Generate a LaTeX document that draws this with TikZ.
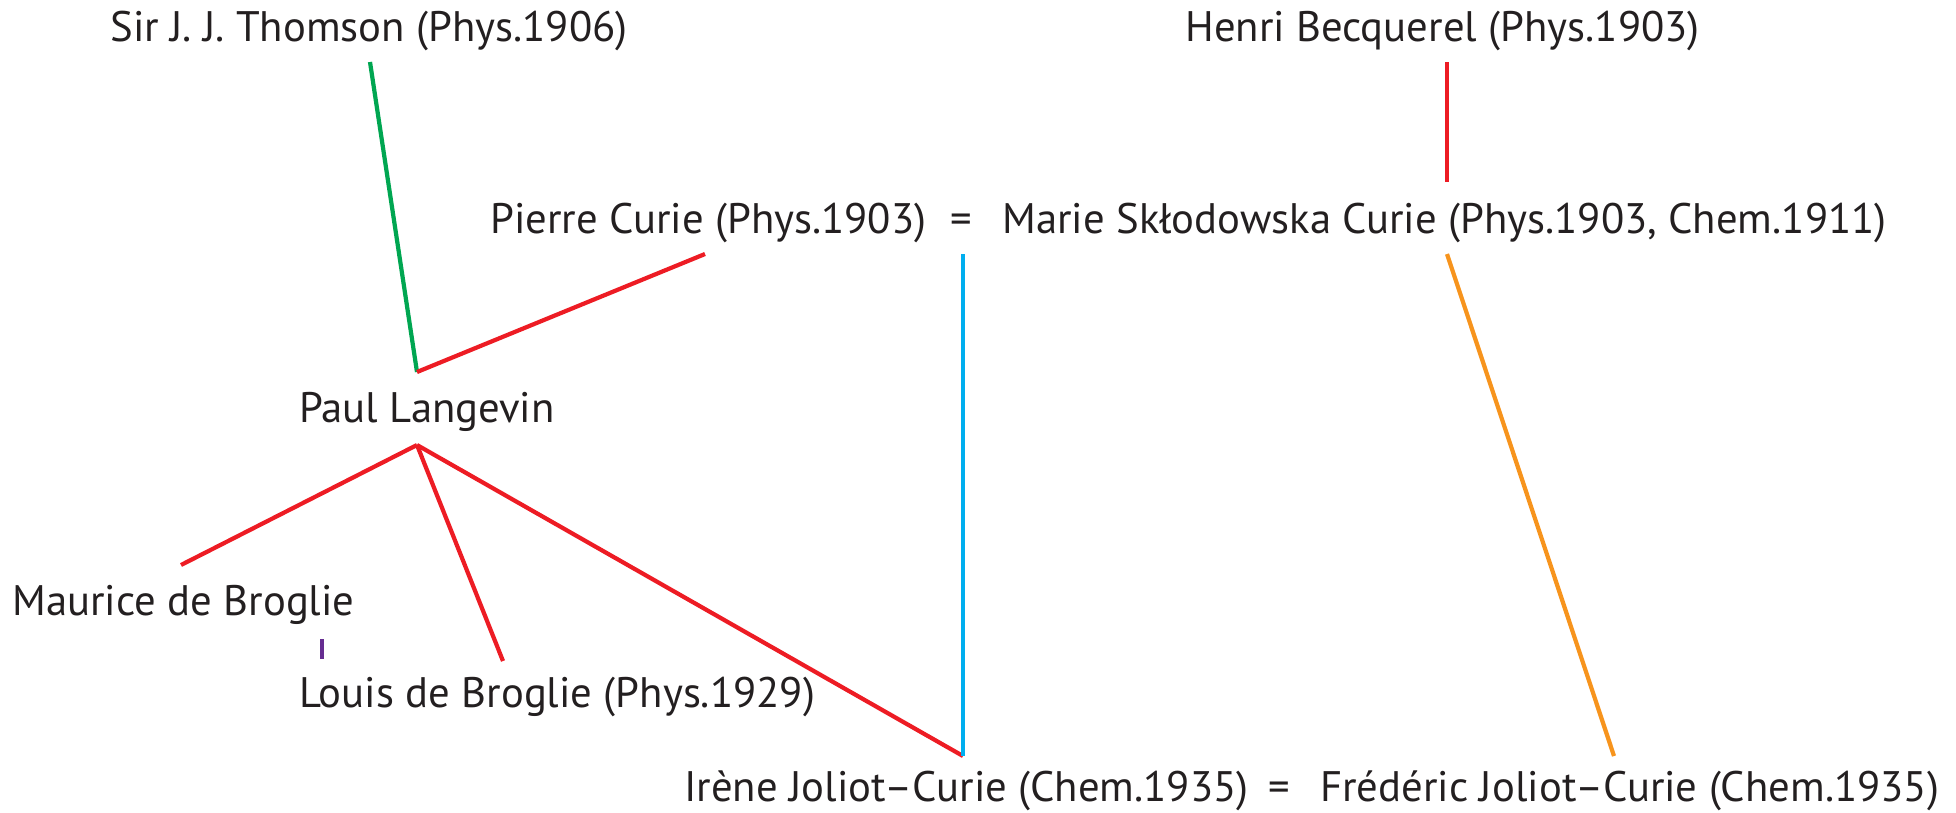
\documentclass[tikz,border=0pt]{standalone}
\usepackage{fontspec}
\setmainfont{PT Sans}
\usetikzlibrary{positioning}
\definecolor{laureateink}{HTML}{231F20}
\definecolor{teachgreen}{HTML}{00A651}
\definecolor{teachred}{HTML}{ED1C24}
\definecolor{kincyan}{HTML}{00AEEF}
\definecolor{kinorange}{HTML}{F7941D}
\definecolor{kinpurple}{HTML}{662D91}

\begin{document}
\begin{tikzpicture}[
  x=0.02cm,
  y=-0.02cm,
  every node/.style={font=\fontsize{24.3}{29}\selectfont, text=laureateink, inner sep=0pt},
  person/.style={anchor=base west},
  tie/.style={line width=2.4pt},
  mentor/.style={tie, teachred},
  student/.style={tie, teachgreen},
  child/.style={tie, kincyan},
  inlaw/.style={tie, kinorange},
  sibling/.style={tie, kinpurple}
]
  \useasboundingbox (0,0) rectangle (1956,812);

  % ---- the laureates, row by row -----------------------------------
  \node[person] (thomson)   at (110,41)  {Sir J. J. Thomson (Phys.1906)};
  \node[person] (becquerel) at (1185,41) {Henri Becquerel (Phys.1903)};

  \node[person] (pierre) at (490,233)  {Pierre Curie (Phys.1903)};
  \node[person] (wed1)   at (950,233)  {=};
  \node[person] (marie)  at (1002,233) {Marie Skłodowska Curie (Phys.1903, Chem.1911)};

  \node[person] (langevin) at (299,422) {Paul Langevin};
  \node[person] (maurice)  at (12,615)  {Maurice de Broglie};
  \node[person] (louis)    at (299,707) {Louis de Broglie (Phys.1929)};

  \node[person] (irene)    at (684,801)  {Irène Joliot–Curie (Chem.1935)};
  \node[person] (wed2)     at (1268,801) {=};
  \node[person] (frederic) at (1320,801) {Frédéric Joliot–Curie (Chem.1935)};

  % ---- ends of the connectors --------------------------------------
  \coordinate (thomson-foot)   at (370,62);
  \coordinate (langevin-head)  at (417,372);
  \coordinate (langevin-foot)  at (417,445);
  \coordinate (becquerel-foot) at (1447,62);
  \coordinate (marie-head)     at (1447,182);
  \coordinate (pierre-foot)    at (705,254);
  \coordinate (wed1-foot)      at (963,254);
  \coordinate (marie-foot)     at (1447,254);
  \coordinate (maurice-head)   at (181,565);
  \coordinate (maurice-foot)   at (322,639);
  \coordinate (louis-head)     at (322,659);
  \coordinate (louis-top)      at (503,661);
  \coordinate (irene-head)     at (963,756);
  \coordinate (frederic-head)  at (1614,756);

  % ---- teachers and pupils -----------------------------------------
  \draw[student] (thomson-foot) -- (langevin-head);
  \draw[mentor] (pierre-foot) -- (langevin-head);
  \draw[mentor] (becquerel-foot) -- (marie-head);
  \draw[mentor] (langevin-foot) -- (maurice-head);
  \draw[mentor] (langevin-foot) -- (louis-top);
  \draw[mentor] (langevin-foot) -- (irene-head);

  % ---- family ------------------------------------------------------
  \draw[child] (wed1-foot) -- (irene-head);
  \draw[inlaw] (marie-foot) -- (frederic-head);
  \draw[sibling] (maurice-foot) -- (louis-head);

\end{tikzpicture}
\end{document}
